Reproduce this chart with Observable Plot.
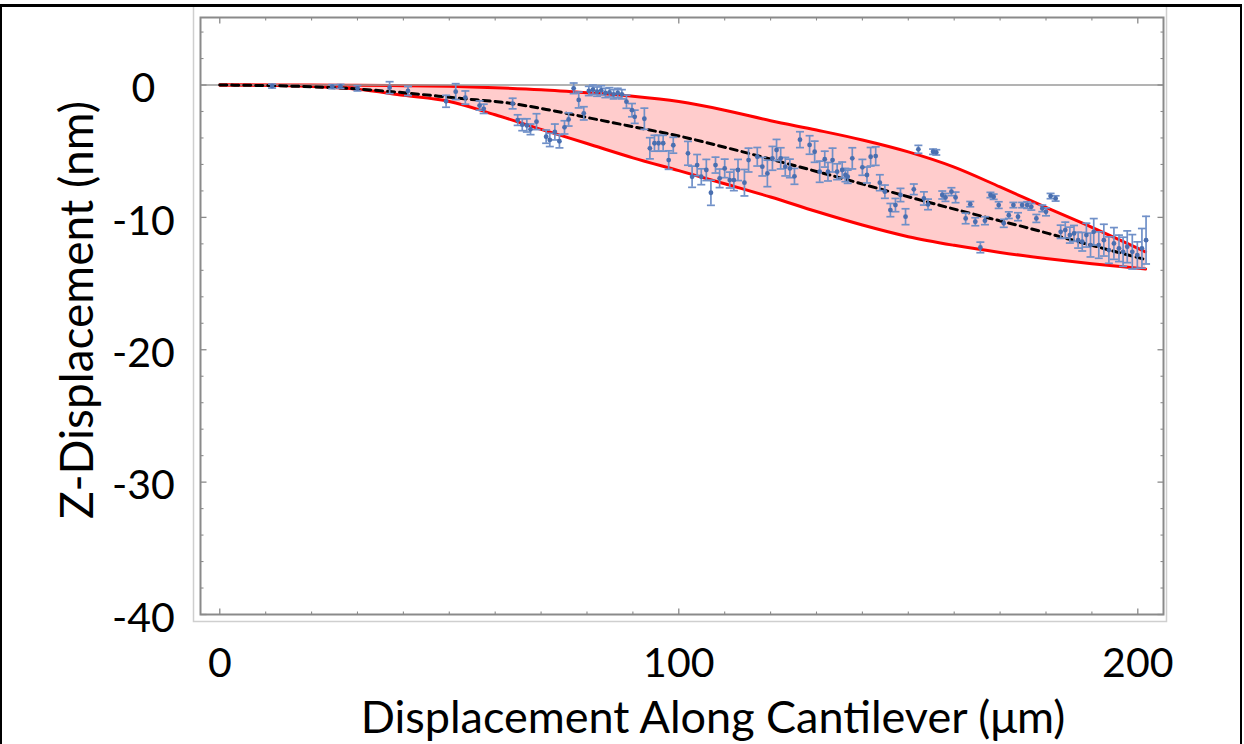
<!DOCTYPE html>
<html><head><meta charset="utf-8">
<script src="https://cdn.jsdelivr.net/npm/d3@7"></script>
<script src="https://cdn.jsdelivr.net/npm/@observablehq/plot@0.6"></script>
<style>
html,body{margin:0;padding:0;background:#fff;}
#wrap{position:relative;width:1244px;height:744px;overflow:hidden;}
#border{position:absolute;left:0;top:4px;width:1242px;height:760px;border-top:3px solid #000;border-left:2px solid #000;border-right:2px solid #000;box-sizing:border-box;pointer-events:none;}
</style></head><body><div id="wrap"><div id="chart"></div><div id="border"></div></div>
<script>
// ---- data ----
const pointX = [
 11.4, 24.5, 26.3, 30, 37, 41, 49.3, 51.4, 53.5, 56.6,
 57.5, 63.8, 64.9, 65.9, 66.9, 67.7, 69, 71.1, 71.9, 73,
 74, 75.1, 76, 77.1, 78.2, 79.3, 80.4, 81.3, 82.2, 83.1,
 84.0, 84.9, 85.8, 86.7, 87.6, 88.6, 89.8, 90.4, 92.5, 93.7,
 94.7, 95.6, 96.6, 97.8, 98.8, 102, 102.9, 104, 104.9, 106,
 107, 108, 108.9, 110, 111.1, 112, 112.9, 114.3, 115.2, 117.1,
 118.2, 119.3, 120.4, 121.3, 122.2, 123.2, 124.2, 125.2, 126.4, 128.5,
 129.6, 130.7, 131.8, 132.5, 133.5, 134.5, 135.6, 136.3, 136.8, 137.8,
 140, 141, 141.8, 142.9, 143.8, 144.9, 146.1, 147.2, 148.3, 149.4,
 151.2, 152.2, 153.4, 154.3, 155.4, 156.1, 157.4, 158.1, 159.4, 160.3,
 162.5, 163.5, 164.6, 165.7, 166.7, 167.9, 168.6, 169.7, 170.8, 171.9,
 172.9, 173.9, 174.8, 175.9, 176.8, 177.9, 179.2, 180, 181, 182.1,
 183.2, 184.2, 185.2, 186.1, 187, 187.9, 188.8, 189.7, 190.4, 191.5,
 192.6, 193.7, 194.8, 195.9, 196.8, 197.7, 198.8, 199.9, 200.9, 201.8];
const pointY = [
 -0.08, -0.12, -0.1, -0.25, -0.2, -0.45, -1.23, -0.5, -0.95, -1.55,
 -1.8, -1.4, -2.65, -3.0, -3.05, -3.35, -2.77, -3.9, -4.15, -3.55,
 -4.25, -3.2, -2.6, -0.25, -1.13, -2.14, -0.45, -0.35, -0.5, -0.4,
 -0.6, -0.55, -0.7, -0.6, -0.7, -1.26, -1.9, -2.4, -2.55, -4.78,
 -4.4, -4.4, -4.4, -5.67, -4.55, -5.16, -6.93, -6.05, -6.93, -6.42,
 -8.14, -6.05, -7.05, -6.3, -7.18, -7.18, -6.42, -7.38, -5.67, -5.42,
 -6.17, -6.68, -5.54, -4.91, -5.54, -6.17, -6.3, -6.9, -4.13, -4.53,
 -5.04, -6.55, -5.6, -6.55, -5.67, -6.55, -6.42, -6.8, -6.93, -5.54,
 -6.22, -6.8, -5.42, -5.37, -7.38, -8.06, -9.45, -9.07, -8.31, -9.95,
 -7.88, -4.86, -8.57, -9.02, -5.04, -5.09, -8.31, -8.49, -8.06, -8.49,
 -10.08, -9.0, -10.33, -12.27, -10.25, -8.31, -8.44, -9.07, -10.45, -9.83,
 -9.07, -9.95, -9.07, -9.07, -9.2, -10.08, -9.32, -9.58, -8.39, -8.57,
 -11.09, -10.96, -11.34, -11.21, -11.72, -11.84, -11.34, -12.09, -11.09, -12.09,
 -11.72, -12.47, -11.97, -12.34, -12.6, -12.22, -12.6, -12.85, -12.34, -11.72];
const pointErr = [
 0.15, 0.15, 0.15, 0.2, 0.45, 0.35, 0.45, 0.6, 0.5, 0.35,
 0.35, 0.4, 0.4, 0.45, 0.5, 0.4, 0.6, 0.5, 0.5, 0.6,
 0.5, 0.5, 0.5, 0.4, 0.6, 0.5, 0.35, 0.35, 0.35, 0.35,
 0.35, 0.35, 0.35, 0.35, 0.35, 0.5, 0.5, 0.5, 0.8, 0.8,
 0.6, 0.6, 0.6, 0.7, 0.6, 0.9, 0.8, 0.8, 0.6, 0.8,
 0.95, 0.6, 0.7, 0.7, 0.6, 0.8, 0.8, 1.0, 0.9, 0.7,
 0.7, 1.0, 0.9, 0.8, 0.8, 0.7, 0.7, 0.6, 0.6, 0.7,
 0.8, 0.8, 0.6, 0.7, 0.9, 0.6, 0.6, 0.5, 0.5, 0.8,
 0.6, 0.6, 0.7, 0.7, 0.6, 0.5, 0.5, 0.5, 0.5, 0.6,
 0.4, 0.3, 0.5, 0.4, 0.2, 0.2, 0.3, 0.3, 0.3, 0.4,
 0.4, 0.2, 0.3, 0.4, 0.3, 0.2, 0.2, 0.25, 0.3, 0.25,
 0.2, 0.3, 0.2, 0.25, 0.25, 0.3, 0.25, 0.3, 0.2, 0.2,
 0.5, 0.6, 0.6, 0.6, 0.6, 0.7, 0.9, 0.9, 1.0, 1.0,
 1.2, 1.0, 1.2, 1.0, 1.1, 1.2, 1.3, 1.0, 1.5, 1.8];

// confidence band (red curves)
const bandX  = [0, 10, 20, 30, 40, 50, 60, 70, 80, 90, 100, 110, 120, 130, 140, 150, 160, 170, 180, 190, 201.7];
const upperY = [0, 0, 0, -0.02, -0.05, -0.1, -0.2, -0.35, -0.58, -0.85, -1.25, -1.9, -2.7, -3.4, -4.15, -5.05, -6.2, -7.7, -9.25, -10.75, -12.6];
const lowerY = [0, -0.02, -0.12, -0.32, -0.78, -1.25, -2.25, -3.35, -4.42, -5.5, -6.47, -7.46, -8.46, -9.56, -10.58, -11.46, -12.11, -12.65, -13.1, -13.5, -13.9];

// best fit (dashed)
const fitX = [0, 15, 30, 41.5, 52, 63.3, 72, 80.7, 90, 100, 110, 124.3, 135, 146, 157, 167.9, 175, 183.2, 192, 201.8];
const fitY = [0, -0.08, -0.3, -0.63, -1.0, -1.38, -1.9, -2.5, -3.15, -3.85, -4.7, -6.0, -7.0, -8.06, -9.1, -10.08, -10.7, -11.47, -12.3, -13.2];

// axes
const xTickValues = [0, 100, 200];
const xTickLabels = ["0", "100", "200"];
const xMinorTicks = [10, 20, 30, 40, 50, 60, 70, 80, 90, 110, 120, 130, 140, 150, 160, 170, 180, 190];
const yTickValues = [0, -10, -20, -30, -40];
const yTickLabels = ["0", "-10", "-20", "-30", "-40"];
const yMinorTicks = [4, 2, -2, -4, -6, -8, -12, -14, -16, -18, -22, -24, -26, -28, -32, -34, -36, -38];
const xTitle = "Displacement Along Cantilever (\u03bcm)";
const yTitle = "Z-Displacement (nm)";

// ---- build tables ----
const points = pointX.map((x, i) => ({x, y: pointY[i], e: pointErr[i]}));
const band = bandX.map((x, i) => ({x, hi: upperY[i], lo: lowerY[i]}));
const fit = fitX.map((x, i) => ({x, y: fitY[i]}));

// pixel-length tick / cap symbols
const seg = (ax, ay, bx, by) => ({draw(ctx, size) {
  const l = Math.sqrt(size / Math.PI);
  ctx.moveTo(ax * l, ay * l); ctx.lineTo(bx * l, by * l);
}});
const tickUp = seg(0, 0, 0, -1), tickDown = seg(0, 0, 0, 1);
const tickRight = seg(0, 0, 1, 0), tickLeft = seg(0, 0, -1, 0);
const cap = seg(-1, 0, 1, 0);

const axisGray = "#8a8a8a";
const barBlue = "#7090c8";
const FS = 41;

const chart = Plot.plot({
  width: 1244, height: 744,
  marginLeft: 200, marginRight: 81, marginTop: 17, marginBottom: 130,
  x: {domain: [-4.2, 205.6], axis: null},
  y: {domain: [-40, 5.1], axis: null},
  style: {fontFamily: "Lato, sans-serif", background: "white", overflow: "visible", color: "black"},
  marks: [
    Plot.frame({stroke: "#cfcfcf", strokeWidth: 1.5, insetLeft: -7, insetRight: -3, insetBottom: -7, insetTop: -12}),
    Plot.areaY(band, {x: "x", y1: "lo", y2: "hi", fill: "#ffcccc", curve: "monotone-x"}),
    Plot.line(band, {x: "x", y: "hi", stroke: "#ff0000", strokeWidth: 3, curve: "monotone-x"}),
    Plot.line(band, {x: "x", y: "lo", stroke: "#ff0000", strokeWidth: 3, curve: "monotone-x"}),
    Plot.ruleY([0], {stroke: "#9a9a9a", strokeWidth: 1.5}),
    Plot.line(fit, {x: "x", y: "y", stroke: "black", strokeWidth: 3, strokeDasharray: "7,5", curve: "monotone-x"}),
    // error bars
    Plot.ruleX(points, {x: "x", y1: d => d.y - d.e, y2: d => d.y + d.e, stroke: barBlue, strokeWidth: 1.7}),
    Plot.dot(points, {x: "x", y: d => d.y + d.e, symbol: cap, r: 4, stroke: barBlue, strokeWidth: 1.7}),
    Plot.dot(points, {x: "x", y: d => d.y - d.e, symbol: cap, r: 4, stroke: barBlue, strokeWidth: 1.7}),
    Plot.dot(points, {x: "x", y: "y", r: 2.4, fill: "#4a6fb0", stroke: null}),
    // frame and ticks (inward, all four sides)
    Plot.frame({stroke: axisGray, strokeWidth: 2}),
    Plot.dot(xTickValues, {x: d => d, frameAnchor: "bottom", symbol: tickUp, r: 6, stroke: axisGray, strokeWidth: 1.3}),
    Plot.dot(xMinorTicks, {x: d => d, frameAnchor: "bottom", symbol: tickUp, r: 3, stroke: axisGray, strokeWidth: 1.1}),
    Plot.dot(xTickValues, {x: d => d, frameAnchor: "top", symbol: tickDown, r: 6, stroke: axisGray, strokeWidth: 1.3}),
    Plot.dot(xMinorTicks, {x: d => d, frameAnchor: "top", symbol: tickDown, r: 3, stroke: axisGray, strokeWidth: 1.1}),
    Plot.dot(yTickValues, {y: d => d, frameAnchor: "left", symbol: tickRight, r: 6, stroke: axisGray, strokeWidth: 1.3}),
    Plot.dot(yMinorTicks, {y: d => d, frameAnchor: "left", symbol: tickRight, r: 3, stroke: axisGray, strokeWidth: 1.1}),
    Plot.dot(yTickValues, {y: d => d, frameAnchor: "right", symbol: tickLeft, r: 6, stroke: axisGray, strokeWidth: 1.3}),
    Plot.dot(yMinorTicks, {y: d => d, frameAnchor: "right", symbol: tickLeft, r: 3, stroke: axisGray, strokeWidth: 1.1}),
    // tick labels
    Plot.text(yTickValues, {y: d => d, text: (d, i) => yTickLabels[i], frameAnchor: "left", dx: -57, dy: 4, textAnchor: "middle", lineAnchor: "middle", fontSize: FS, fill: "black"}),
    Plot.text(xTickValues, {x: d => d, text: (d, i) => xTickLabels[i], frameAnchor: "bottom", dy: 62, lineAnchor: "bottom", fontSize: FS, fill: "black"}),
    // titles
    Plot.text([xTitle], {frameAnchor: "bottom", dx: 31, dy: 104, lineAnchor: "middle", textAnchor: "middle", fontSize: 45, fill: "black"}),
    Plot.text([yTitle], {frameAnchor: "left", rotate: -90, dx: -122, dy: -6, lineAnchor: "middle", textAnchor: "middle", fontSize: 46, fill: "black"})
  ]
});
document.getElementById("chart").append(chart);
</script>
</body></html>
